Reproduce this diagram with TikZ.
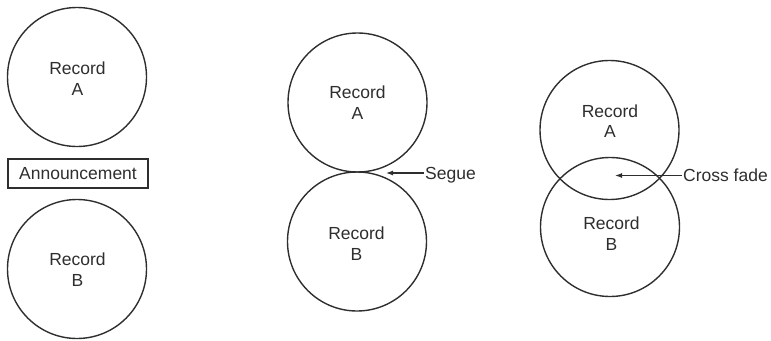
\documentclass[tikz,border=0pt]{standalone}
\usepackage{fontspec}
\setmainfont{Liberation Sans}
\usetikzlibrary{arrows.meta}
\definecolor{ink}{HTML}{2E2E2E}
\begin{document}
\begin{tikzpicture}[x=1pt,y=-1pt,
  disc/.style={circle,draw=ink,line width=1.4pt,inner sep=0pt,minimum size=139pt},
  txt/.style={text=ink,font=\fontsize{17.5}{20.5}\selectfont},
  rec/.style={txt,align=center,inner sep=0pt},
  tag/.style={txt,anchor=west,inner xsep=1.5pt,inner ysep=0pt,text height=12.5pt,text depth=0pt},
  banner/.style={txt,draw=ink,line width=1.2pt,minimum width=140pt,minimum height=29pt,inner sep=0pt},
  arr/.style={draw=ink,line width=1.2pt,-{Latex[length=7pt,width=5pt]}}]
\useasboundingbox (0,0) rectangle (771,340);

% Left: records separated by an announcement
\node[disc] (la) at (77,77) {};
\node[rec] (lat) at (77.5,78.5) {Record\\A};
\node[banner] (ann) at (78,173.5) {Announcement};
\node[disc] (lb) at (77,269) {};
\node[rec] (lbt) at (77.5,269.5) {Record\\B};

% Middle: segue, the two records just touch
\node[disc] (ma) at (357.5,102.5) {};
\node[rec] (mat) at (357.5,102.5) {Record\\A};
\node[disc] (mb) at (357,241.5) {};
\node[rec] (mbt) at (356.5,243.5) {Record\\B};
\coordinate (segtip) at (386,173);
\node[tag] (seg) at (423.5,173) {Segue};
\draw[arr] (seg.west) -- (segtip);

% Right: cross fade, the two records overlap
\node[disc] (ra) at (609.5,130) {};
\node[rec] (rat) at (610,121) {Record\\A};
\node[disc] (rb) at (610,227) {};
\node[rec] (rbt) at (611.5,233.5) {Record\\B};
\coordinate (xftip) at (615,175.5);
\node[tag] (xf) at (681.5,175.5) {Cross fade};
\draw[arr] (xf.west) -- (xftip);
\end{tikzpicture}
\end{document}
